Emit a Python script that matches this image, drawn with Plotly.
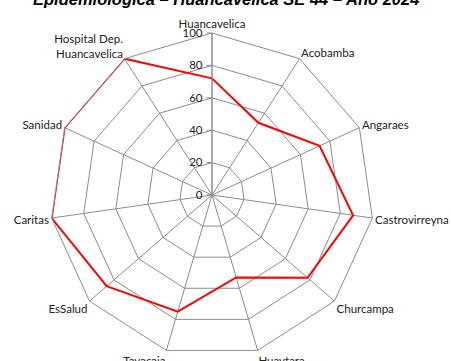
import plotly.graph_objects as go

# Establishments (clockwise from the top) and their indicator values
categorias = [
    "Huancavelica", "Acobamba", "Angaraes", "Castrovirreyna", "Churcampa",
    "Huaytara", "Tayacaja", "EsSalud", "Caritas", "Sanidad",
    "Hospital Dep.<br>Huancavelica",
]
valores = [72, 53, 73, 88, 78, 53, 75, 86, 100, 100, 100]
ticks_radial = [0, 20, 40, 60, 80, 100]

titulo = "Epidemiológica – Huancavelica SE 44 – Año 2024"

grid_color = "#8c8c8c"
label_font = dict(family="Lato, Carlito, Calibri, sans-serif", size=11.5, color="#222222")

fig = go.Figure()
fig.add_trace(go.Scatterpolar(
    r=valores + valores[:1],
    theta=categorias + categorias[:1],
    mode="lines",
    line=dict(color="#ff0000", width=2),
    showlegend=False,
    hoverinfo="r+theta",
))

fig.update_layout(
    width=451, height=361,
    margin=dict(l=50, r=77, t=33, b=4),
    paper_bgcolor="white",
    plot_bgcolor="white",
    polar=dict(
        bgcolor="white",
        gridshape="linear",
        domain=dict(x=[0, 1], y=[0, 1]),
        angularaxis=dict(
            rotation=90,
            direction="clockwise",
            showline=True,
            linecolor=grid_color,
            linewidth=1,
            gridcolor=grid_color,
            gridwidth=1,
            ticks="",
            tickfont=label_font,
        ),
        radialaxis=dict(
            range=[0, 100],
            tickvals=ticks_radial,
            angle=90,
            side="counterclockwise",
            showline=True,
            linecolor=grid_color,
            linewidth=1,
            gridcolor=grid_color,
            gridwidth=1,
            ticks="outside",
            ticklen=5,
            tickcolor=grid_color,
            tickangle=90,
            tickfont=label_font,
        ),
    ),
    annotations=[dict(
        text=f"<b><i>{titulo}</i></b>",
        xref="paper", yref="paper",
        x=0.543, y=1.106, xanchor="center", yanchor="middle",
        showarrow=False,
        font=dict(family="Liberation Sans, Arial, sans-serif", size=16.5, color="#000000"),
    )],
)

fig.write_html("out.html")
